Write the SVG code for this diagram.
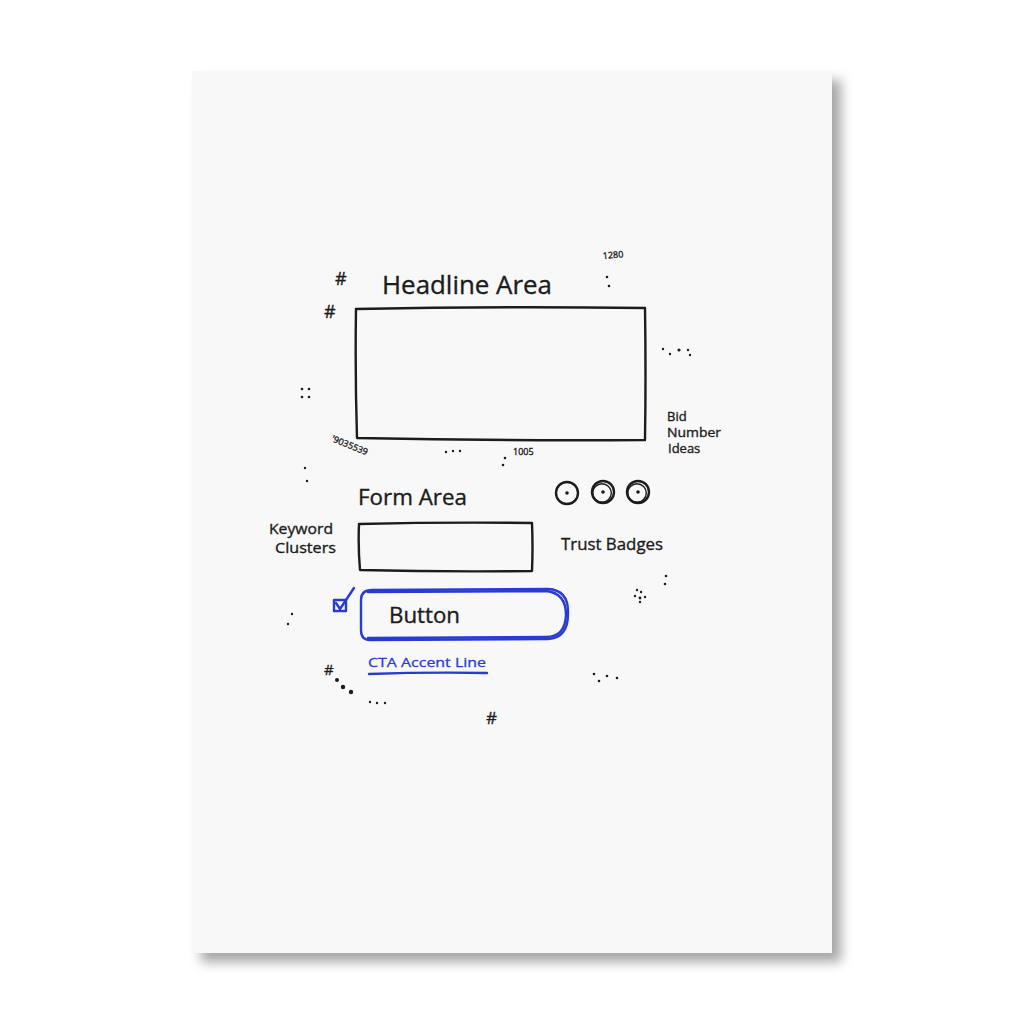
<svg xmlns="http://www.w3.org/2000/svg" width="1024" height="1024" viewBox="0 0 1024 1024">
<defs>
  <filter id="shadow" x="-10%" y="-10%" width="130%" height="130%">
    <feDropShadow dx="9" dy="9" stdDeviation="6" flood-color="#000" flood-opacity="0.35"/>
  </filter>
  <style>
    .ink{fill:none;stroke:#1c1c1c;stroke-width:2.4;stroke-linecap:round;stroke-linejoin:round}
    .thin{fill:none;stroke:#1c1c1c;stroke-width:1.4;stroke-linecap:round}
    .blue{fill:none;stroke:#2a3bd1;stroke-width:2.4;stroke-linecap:round;stroke-linejoin:round}
    .t{font-family:"Open Sans","Liberation Sans",sans-serif;fill:#1c1c1c;stroke:#1c1c1c;stroke-width:0.35}
    .tb{font-family:"Open Sans","Liberation Sans",sans-serif;fill:#2a3bd1;stroke:#2a3bd1;stroke-width:0.3}
    .dot{fill:#1c1c1c}
  </style>
</defs>
<rect width="1024" height="1024" fill="#ffffff"/>
<rect id="paper" x="192" y="71" width="640" height="882" fill="#f8f8f8" filter="url(#shadow)"/>

<g id="headline">
  <text class="t" x="382" y="294" font-size="25" textLength="170" lengthAdjust="spacingAndGlyphs">Headline Area</text>
  <path class="ink" d="M356 309 Q500 306 645 308 Q646 374 645 440 Q500 441 357 438 Q355 374 356 309 Z"/>
</g>

<g id="bid-number-ideas">
  <text class="t" x="667" y="421" font-size="13">Bid</text>
  <text class="t" x="667" y="437" font-size="13" textLength="54" lengthAdjust="spacingAndGlyphs">Number</text>
  <text class="t" x="668" y="453" font-size="13">Ideas</text>
</g>

<g id="form">
  <text class="t" x="358" y="505" font-size="21" textLength="109" lengthAdjust="spacingAndGlyphs">Form Area</text>
  <path class="ink" d="M359 524 Q445 522 532 523 Q533 547 532 571 Q445 572 360 570 Q358 547 359 524 Z" stroke-width="2"/>
</g>

<g id="keyword-clusters">
  <text class="t" x="269" y="534" font-size="15" textLength="64" lengthAdjust="spacingAndGlyphs">Keyword</text>
  <text class="t" x="275" y="553" font-size="15" textLength="61" lengthAdjust="spacingAndGlyphs">Clusters</text>
</g>

<g id="trust-badges">
  <circle class="ink" cx="567" cy="493" r="11" stroke-width="2"/>
  <circle class="dot" cx="567" cy="493" r="1.8"/>
  <circle class="ink" cx="603" cy="492" r="11" stroke-width="2"/>
  <circle class="thin" cx="602" cy="493" r="9.3" stroke-width="1.1"/>
  <circle class="dot" cx="603" cy="492" r="1.8"/>
  <circle class="ink" cx="638" cy="492" r="11" stroke-width="2"/>
  <circle class="thin" cx="637" cy="493" r="9.3" stroke-width="1.1"/>
  <circle class="dot" cx="638" cy="492" r="1.8"/>
  <text class="t" x="561" y="550" font-size="17" textLength="102" lengthAdjust="spacingAndGlyphs">Trust Badges</text>
</g>

<g id="button">
  <path class="blue" d="M372 590 L548 589 Q569 590 568 614 Q568 638 548 639 L370 640 Q361 640 361 630 L361 600 Q361 590 372 590 Z"/>
  <path class="blue" d="M368 592 L546 591 Q566 593 566 615 Q565 637 546 637 L368 638" stroke-width="1.2"/>
  <text class="t" x="389" y="623" font-size="21" textLength="71" lengthAdjust="spacingAndGlyphs">Button</text>
  <rect class="blue" x="334" y="600" width="12" height="11" stroke-width="2"/>
  <path class="blue" d="M336 603 L340 609 L354 588" stroke-width="2"/>
</g>

<g id="cta-accent-line">
  <text class="tb" x="368" y="667" font-size="13.5" textLength="118" lengthAdjust="spacingAndGlyphs">CTA Accent Line</text>
  <path class="blue" d="M369 674 Q428 672 487 673" stroke-width="2"/>
</g>

<g id="doodles">
  <text class="t" x="335" y="285" font-size="18">#</text>
  <text class="t" x="324" y="318" font-size="18">#</text>
  <text class="t" x="486" y="724" font-size="17">#</text>
  <text class="t" x="324" y="675" font-size="15">#</text>
  <text class="t" x="603" y="259" font-size="9" transform="rotate(-5 603 259)">1280</text>
  <text class="t" x="513" y="455" font-size="9">1005</text>
  <text class="t" x="331" y="441" font-size="9" transform="rotate(22 331 441)">'9035539</text>
  <circle class="dot" cx="607" cy="277" r="1.3"/><circle class="dot" cx="609" cy="286" r="1.3"/>
  <circle class="dot" cx="663" cy="349" r="1.2"/><circle class="dot" cx="670" cy="354" r="1.2"/><circle class="dot" cx="679" cy="350" r="1.6"/><circle class="dot" cx="688" cy="350" r="1.2"/><circle class="dot" cx="690" cy="355" r="1.2"/>
  <circle class="dot" cx="302" cy="389" r="1.3"/><circle class="dot" cx="309" cy="389" r="1.3"/><circle class="dot" cx="302" cy="397" r="1.3"/><circle class="dot" cx="309" cy="397" r="1.3"/>
  <circle class="dot" cx="446" cy="452" r="1.2"/><circle class="dot" cx="453" cy="451" r="1.2"/><circle class="dot" cx="460" cy="451" r="1.2"/>
  <circle class="dot" cx="505" cy="458" r="1.3"/><circle class="dot" cx="503" cy="465" r="1.3"/>
  <circle class="dot" cx="305" cy="468" r="1.2"/><circle class="dot" cx="307" cy="481" r="1.2"/>
  <circle class="dot" cx="666" cy="576" r="1.3"/><circle class="dot" cx="665" cy="584" r="1.3"/>
  <circle class="dot" cx="637" cy="590" r="1.2"/><circle class="dot" cx="641" cy="592" r="1.2"/><circle class="dot" cx="635" cy="596" r="1.2"/><circle class="dot" cx="640" cy="598" r="1.4"/><circle class="dot" cx="645" cy="597" r="1.2"/><circle class="dot" cx="640" cy="602" r="1.2"/>
  <circle class="dot" cx="292" cy="614" r="1.2"/><circle class="dot" cx="288" cy="624" r="1.2"/>
  <circle class="dot" cx="337" cy="680" r="2"/><circle class="dot" cx="343" cy="687" r="2.2"/><circle class="dot" cx="351" cy="692" r="2.2"/>
  <circle class="dot" cx="370" cy="702" r="1.2"/><circle class="dot" cx="377" cy="703" r="1.2"/><circle class="dot" cx="385" cy="703" r="1.2"/>
  <circle class="dot" cx="594" cy="674" r="1.3"/><circle class="dot" cx="599" cy="681" r="1.3"/><circle class="dot" cx="607" cy="676" r="1.3"/><circle class="dot" cx="617" cy="678" r="1.3"/>
</g>
</svg>
